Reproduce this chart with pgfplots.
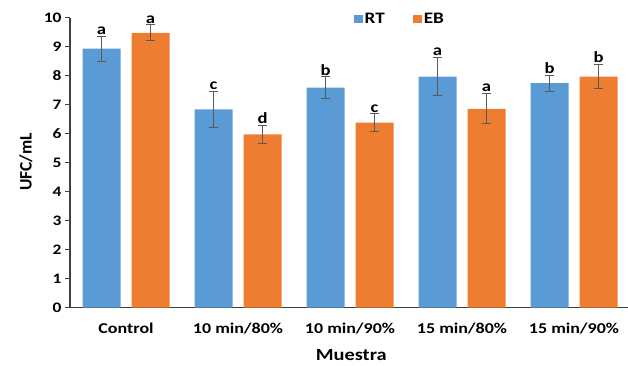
\documentclass[border=0pt]{standalone}
\usepackage{fontspec}
\setmainfont{Carlito}[FakeStretch=1.2]
\newfontfamily\plainfont{Carlito}
\usepackage{pgfplots}
\pgfplotsset{compat=1.18}
\definecolor{rtblue}{HTML}{5B9BD5}
\definecolor{eborange}{HTML}{ED7D31}
\definecolor{errgray}{HTML}{595959}
\definecolor{axgray}{HTML}{404040}

\pgfplotstableread{
x y e xs
0 8.93 0.43 -0.21875
1 6.84 0.63 0.78125
2 7.59 0.37 1.78125
3 7.97 0.65 2.78125
4 7.74 0.27 3.78125
}\rtdata
\pgfplotstableread{
x y e xs
0 9.48 0.27 0.21875
1 5.98 0.31 1.21875
2 6.38 0.30 2.21875
3 6.86 0.52 3.21875
4 7.97 0.42 4.21875
}\ebdata

\begin{document}
\begin{tikzpicture}
\begin{axis}[
  scale only axis, width=558pt, height=290pt,
  xmin=-0.5, xmax=4.482, ymin=0, ymax=10,
  clip=false,
  axis x line*=bottom, axis y line*=left,
  axis line style={axgray, line width=1.1pt},
  ytick={0,1,...,10},
  xtick={0,1,2,3,4},
  xticklabels={Control,10 min/80\%,10 min/90\%,15 min/80\%,15 min/90\%},
  x tick style={draw=none},
  y tick style={axgray, line width=1pt},
  tick align=outside, major tick length=5pt,
  /pgf/number format/assume math mode=true,
  yticklabel style={font=\fontsize{14.5}{16}\selectfont\bfseries},
  xticklabel style={font=\fontsize{15}{17}\selectfont\bfseries, yshift=-7pt},
  xlabel={Muestra},
  xlabel style={font=\fontsize{17}{19}\selectfont\bfseries, at={(axis description cs:0.504,0)}, anchor=center, yshift=-47pt},
  ylabel={UFC/mL},
  ylabel style={font=\plainfont\fontsize{17.5}{19}\selectfont\bfseries, at={(axis description cs:-0.0789,0.502)}, anchor=center},
  legend columns=2,
  legend style={at={(axis description cs:0.591,0.9955)}, anchor=center, draw=none, fill=none,
    font=\fontsize{16}{18}\selectfont\bfseries,
    /tikz/every even column/.append style={column sep=26pt}},
  legend image code/.code={\fill[#1] (0pt,-3.5pt) rectangle (9pt,4pt);},
]
\addplot[ybar, bar width=38pt, bar shift=-24.5pt, fill=rtblue, draw=none]
  table[x=x, y=y] {\rtdata};
\addlegendentry{RT}
\addplot[ybar, bar width=38pt, bar shift=24.5pt, fill=eborange, draw=none]
  table[x=x, y=y] {\ebdata};
\addlegendentry{EB}
% error bars at the bar centres
\addplot[draw=none, mark=none, forget plot,
  error bars/.cd, y dir=both, y explicit,
  error bar style={line width=1pt, errgray},
  error mark options={rotate=90, mark size=4.5pt, line width=1pt, errgray}]
  table[x=xs, y=y, y error=e] {\rtdata};
\addplot[draw=none, mark=none, forget plot,
  error bars/.cd, y dir=both, y explicit,
  error bar style={line width=1pt, errgray},
  error mark options={rotate=90, mark size=4.5pt, line width=1pt, errgray}]
  table[x=xs, y=y, y error=e] {\ebdata};
% significance letters
\addplot[draw=none, mark=none, forget plot, nodes near coords, point meta=explicit symbolic,
  nodes near coords style={font=\fontsize{15.5}{17}\selectfont\bfseries, anchor=south, inner sep=1.5pt, text=black}]
  table[meta=l] {
x y l
-0.21875 9.36 a
0.78125 7.47 c
1.78125 7.96 b
2.78125 8.62 a
3.78125 8.01 b
};
\addplot[draw=none, mark=none, forget plot, nodes near coords, point meta=explicit symbolic,
  nodes near coords style={font=\fontsize{15.5}{17}\selectfont\bfseries, anchor=south, inner sep=1.5pt, text=black}]
  table[meta=l] {
x y l
0.21875 9.75 a
1.21875 6.29 d
2.21875 6.68 c
3.21875 7.38 a
4.21875 8.39 b
};
\end{axis}
\pgfresetboundingbox
\useasboundingbox (-70pt,-57.3pt) rectangle (558pt,307.7pt);
\end{tikzpicture}
\end{document}
